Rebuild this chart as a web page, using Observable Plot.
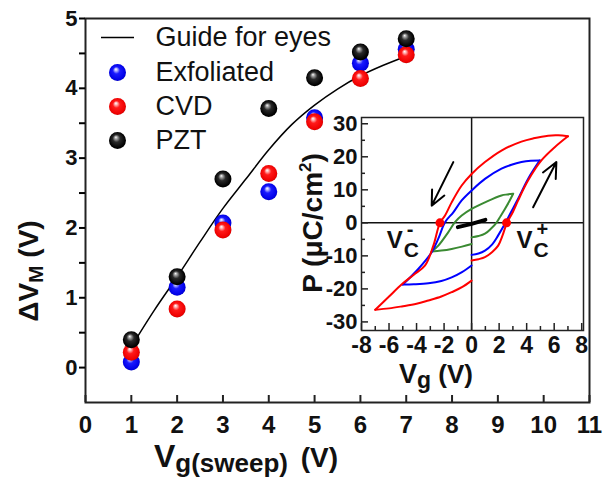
<!DOCTYPE html>
<html>
<head>
<meta charset="utf-8">
<script src="https://cdn.jsdelivr.net/npm/d3@7"></script>
<script src="https://cdn.jsdelivr.net/npm/@observablehq/plot@0.6"></script>
<style>
  body { margin: 0; background: #fff; }
  #chart { position: relative; width: 604px; height: 480px; }
  #inset { position: absolute; left: 301px; top: 113px; }
  #chart svg text { font-family: "Liberation Sans", Arial, sans-serif; }
</style>
</head>
<body>
<svg width="0" height="0" style="position:absolute">
  <defs>
    <radialGradient id="ball-blue" cx="0.5" cy="0.5" r="0.55" fx="0.4" fy="0.3">
      <stop offset="0" stop-color="#ffffff"/>
      <stop offset="0.14" stop-color="#b8b8ff"/>
      <stop offset="0.38" stop-color="#1a1aff"/>
      <stop offset="0.85" stop-color="#0000e6"/>
      <stop offset="1" stop-color="#00009a"/>
    </radialGradient>
    <radialGradient id="ball-red" cx="0.5" cy="0.5" r="0.55" fx="0.4" fy="0.3">
      <stop offset="0" stop-color="#ffffff"/>
      <stop offset="0.14" stop-color="#ffb8b8"/>
      <stop offset="0.38" stop-color="#ff1a1a"/>
      <stop offset="0.85" stop-color="#ee0000"/>
      <stop offset="1" stop-color="#a00000"/>
    </radialGradient>
    <radialGradient id="ball-black" cx="0.5" cy="0.5" r="0.55" fx="0.4" fy="0.3">
      <stop offset="0" stop-color="#ffffff"/>
      <stop offset="0.14" stop-color="#aaaaaa"/>
      <stop offset="0.4" stop-color="#2a2a2a"/>
      <stop offset="0.85" stop-color="#000000"/>
      <stop offset="1" stop-color="#000000"/>
    </radialGradient>
  </defs>
</svg>
<div id="chart"><div id="inset"></div></div>
<script>
const FONT = '"Liberation Sans", Arial, sans-serif';

// ΔV_M versus sweep gate voltage
const sweepV     = [1, 2, 3, 4, 5, 6, 7];
const exfoliated = [0.08, 1.15, 2.07, 2.52, 3.58, 4.36, 4.56];
const cvd        = [0.22, 0.84, 1.97, 2.78, 3.52, 4.14, 4.48];
const pzt        = [0.40, 1.30, 2.70, 3.71, 4.15, 4.52, 4.71];

// hand-drawn guide curve
const guideV  = [1, 1.5, 2, 2.5, 3, 3.5, 4, 4.5, 5, 5.5, 6, 6.5, 7];
const guideDV = [0.30, 0.82, 1.30, 1.80, 2.28, 2.70, 3.12, 3.48, 3.76, 3.99, 4.18, 4.33, 4.46];

const xTicks  = [0, 1, 2, 3, 4, 5, 6, 7, 8, 9, 10, 11];
const yTicks  = [0, 1, 2, 3, 4, 5];
const yMinor  = [0.5, 1.5, 2.5, 3.5, 4.5];

const seriesNames = ["Exfoliated", "CVD", "PZT"];
const seriesBalls = ["url(#ball-blue)", "url(#ball-red)", "url(#ball-black)"];
const seriesValues = [exfoliated, cvd, pzt];

// P–V hysteresis loops (V in volts, P in µC/cm²), each split in sweep branches
const redDown  = [[7.0,26.2],[6.3,26.5],[5.56,26.4],[4.5,25.6],[3.62,24.6],[2.17,21.9],[0.97,18.4],[0,14.8],[-0.72,11.3],[-1.45,6.2],[-1.93,2.2],[-2.3,0],[-2.78,-6.9],[-3.38,-12.9],[-4.2,-15.7],[-5.07,-18.6],[-6.0,-22.3],[-7.0,-26.3]];
const redUpNeg = [[-7.0,-26.3],[-6.0,-25.9],[-5.07,-25.3],[-4.0,-24.5],[-3.14,-23.5],[-2.2,-22.3],[-1.45,-21.0],[-0.7,-19.5],[0,-17.5]];
const redUpPos = [[0,-11.4],[0.5,-11.0],[0.97,-10.4],[1.5,-8.8],[1.93,-6.9],[2.25,-3.8],[2.54,-0.3],[3.0,3.3],[3.38,6.8],[4.1,12.8],[5.07,18.9],[6.04,22.9],[7.0,26.2]];

const blueDown  = [[4.95,18.9],[4.3,18.8],[3.62,18.4],[2.9,17.6],[2.17,16.4],[0.97,13.3],[0,9.8],[-0.72,6.8],[-1.33,3.2],[-1.93,0.2],[-2.42,-4.8],[-2.9,-8.9],[-3.86,-13.9],[-5.0,-18.7]];
const blueUpNeg = [[-5.0,-18.7],[-4.2,-18.6],[-3.14,-18.3],[-2.2,-17.6],[-1.45,-16.5],[-0.7,-14.9],[0,-12.9]];
const blueUpPos = [[0,-9.7],[0.5,-9.3],[0.97,-8.4],[1.5,-6.5],[1.93,-3.8],[2.42,-0.3],[2.9,3.5],[3.38,7.3],[4.1,13.3],[4.95,18.9]];

const greenDown  = [[3.02,8.8],[2.6,8.6],[2.17,8.3],[0.97,6.2],[0,4.2],[-0.72,2.2],[-1.21,0.2],[-1.69,-2.8],[-2.42,-6.9],[-2.9,-8.7]];
const greenUpNeg = [[-2.9,-8.7],[-2.2,-8.4],[-1.45,-7.9],[-0.7,-7.2],[0,-6.4]];
const greenUpPos = [[0,-4.4],[0.5,-4.0],[0.97,-3.3],[1.4,-1.8],[1.8,0],[2.1,2.0],[2.42,4.2],[2.75,6.6],[3.02,8.8]];

const smallLoop = [[-1.0,-1.3],[0,-0.3],[1.0,0.9]];

// coercive voltages V_C- and V_C+
const coerciveV = [-2.3, 2.54];

// sweep direction arrows [V1, P1, V2, P2]
const sweepArrows = [[-1.33, 18.4, -2.9, 5.2], [4.47, 4.7, 6.16, 18.4]];

// V_C labels
const vcLabelV    = [-6.16, 3.26];
const vcLabelP    = [-5.4, -5.4];
const vcLabelSign = ["-", "+"];

const vgMajor = [-8, -6, -4, -2, 0, 2, 4, 6, 8];
const vgMinor = [-7, -5, -3, -1, 1, 3, 5, 7];
const pMajor  = [-30, -20, -10, 0, 10, 20, 30];
const pMinor  = [-25, -15, -5, 5, 15, 25];

// ---------- main chart ----------
const W = 604, H = 480, mL = 85, mR = 15, mT = 18, mB = 78;
const innerH = H - mT - mB;

const lineSymbol = {
  draw(context) { context.moveTo(-16.5, 0); context.lineTo(16.5, 0); }
};

const legendRows = [37, 72, 106, 140];

const legendMarks = [
  Plot.dot([0], {frameAnchor: "top-left", dx: 117 - mL, dy: legendRows[0] - mT, symbol: lineSymbol, fill: "none", stroke: "black", strokeWidth: 1.5}),
  Plot.text(["Guide for eyes"], {frameAnchor: "top-left", dx: 155 - mL, dy: legendRows[0] - mT, text: d => d, textAnchor: "start", lineAnchor: "middle", fontSize: 27, fill: "#111"})
];
seriesNames.forEach((name, i) => {
  legendMarks.push(
    Plot.dot([0], {frameAnchor: "top-left", dx: 117 - mL, dy: legendRows[i + 1] - mT, r: 8.5, fill: seriesBalls[i]}),
    Plot.text([name], {frameAnchor: "top-left", dx: 155 - mL, dy: legendRows[i + 1] - mT, text: d => d, textAnchor: "start", lineAnchor: "middle", fontSize: 27, fill: "#111"})
  );
});

const guide = guideV.map((v, i) => ({v, dv: guideDV[i]}));

const main = Plot.plot({
  width: W, height: H,
  marginLeft: mL, marginRight: mR, marginTop: mT, marginBottom: mB,
  style: {fontFamily: FONT, background: "transparent", overflow: "visible"},
  x: {domain: [0, 11]},
  y: {domain: [-0.5, 5]},
  marks: [
    Plot.frame({stroke: "#222", strokeWidth: 2}),
    Plot.axisY(yTicks, {tickSize: 6, tickPadding: 2, fontSize: 22, fontWeight: "bold", strokeWidth: 2, label: null, tickFormat: d => String(d), fill: "#111"}),
    Plot.axisY(yMinor, {tickSize: 6, tickFormat: () => "", strokeWidth: 2, label: null}),
    Plot.axisX(xTicks, {tickSize: 0, tickPadding: 13, fontSize: 24, fontWeight: "bold", label: null, tickFormat: d => String(d), fill: "#111"}),
    Plot.tickX(xTicks, {x: d => d, insetTop: innerH - 7, stroke: "#222", strokeWidth: 2}),
    Plot.line(guide, {x: "v", y: "dv", curve: "catmull-rom", stroke: "black", strokeWidth: 1.5}),
    ...seriesValues.map((vals, i) =>
      Plot.dot(sweepV.map((v, j) => ({v, dv: vals[j]})), {x: "v", y: "dv", r: 8.5, fill: seriesBalls[i]})
    ),
    ...legendMarks
  ]
});
document.getElementById("chart").prepend(main);

// axis titles with sub/superscripts
const svgMain = d3.select(main);
const xt = svgMain.append("text").attr("x", 246).attr("y", 467).attr("font-weight", "bold").attr("fill", "#111");
xt.append("tspan").attr("font-size", 32).text("V");
xt.append("tspan").attr("font-size", 26).attr("dy", 5).text("g(sweep)");
xt.append("tspan").attr("font-size", 28).attr("dy", -5).attr("dx", 5).text(" (V)");

const yt = svgMain.append("text").attr("transform", "translate(38,271) rotate(-90)").attr("font-weight", "bold").attr("fill", "#111");
yt.append("tspan").attr("font-size", 28).text("ΔV");
yt.append("tspan").attr("font-size", 21).attr("dy", 5).text("M");
yt.append("tspan").attr("font-size", 28).attr("dy", -5).text(" (V)");

// ---------- inset: P–V hysteresis ----------
const iL = 60, iR = 4, iT = 4, iB = 56, iW = 286, iH = 273;
const iInnerW = iW - iL - iR, iInnerH = iH - iT - iB;

const toRows = (pts, loop, part) => pts.map(([v, p]) => ({v, p, key: loop + "-" + part}));
const loopStyle = [
  {color: "#ff0000", parts: [redDown, redUpNeg, redUpPos]},
  {color: "#0000ff", parts: [blueDown, blueUpNeg, blueUpPos]},
  {color: "#3a8a32", parts: [greenDown, greenUpNeg, greenUpPos]}
];

const loopMarks = [];
loopStyle.slice().reverse().forEach((loop, li) => {
  loop.parts.forEach((pts, pi) => {
    loopMarks.push(Plot.line(toRows(pts, li, pi), {x: "v", y: "p", stroke: loop.color, strokeWidth: 2, curve: "catmull-rom"}));
  });
});

const vcLabels = vcLabelV.map((v, i) => ({v, p: vcLabelP[i], sign: vcLabelSign[i]}));

const inset = Plot.plot({
  width: iW, height: iH,
  marginLeft: iL, marginRight: iR, marginTop: iT, marginBottom: iB,
  style: {fontFamily: FONT, background: "transparent", overflow: "visible"},
  x: {domain: [-8, 8.13]},
  y: {domain: [-32.6, 31.9]},
  marks: [
    Plot.ruleX([0], {stroke: "#111", strokeWidth: 1.5}),
    Plot.ruleY([0], {stroke: "#111", strokeWidth: 1.5}),
    ...loopMarks,
    Plot.line(smallLoop.map(([v, p]) => ({v, p})), {x: "v", y: "p", stroke: "#000", strokeWidth: 4, strokeLinecap: "round"}),
    Plot.dot(coerciveV.map(v => ({v, p: 0})), {x: "v", y: "p", r: 4.5, fill: "#ff0000"}),
    Plot.arrow(sweepArrows, {x1: d => d[0], y1: d => d[1], x2: d => d[2], y2: d => d[3], stroke: "#000", strokeWidth: 2, headLength: 14, headAngle: 50}),
    Plot.text(vcLabels, {x: "v", y: "p", text: () => "V", textAnchor: "start", lineAnchor: "middle", fontSize: 24, fontWeight: "bold", fill: "#111"}),
    Plot.text(vcLabels, {x: "v", y: "p", text: () => "C", textAnchor: "start", lineAnchor: "middle", dx: 17, dy: 10, fontSize: 21, fontWeight: "bold", fill: "#111"}),
    Plot.text(vcLabels, {x: "v", y: "p", text: "sign", textAnchor: "start", lineAnchor: "middle", dx: 20, dy: -11, fontSize: 20, fontWeight: "bold", fill: "#111"}),
    Plot.frame({stroke: "#222", strokeWidth: 1.5}),
    Plot.axisX(vgMajor, {tickSize: 0, tickPadding: 6, fontSize: 23, fontWeight: "bold", label: null, tickFormat: d => String(d), fill: "#111"}),
    Plot.tickX(vgMajor, {x: d => d, insetTop: iInnerH - 7, stroke: "#222", strokeWidth: 1.5}),
    Plot.tickX(vgMinor, {x: d => d, insetTop: iInnerH - 4, stroke: "#222", strokeWidth: 1.5}),
    Plot.axisY(pMajor, {tickSize: 0, tickPadding: 4, fontSize: 22, fontWeight: "bold", label: null, tickFormat: d => String(d), fill: "#111"}),
    Plot.tickY(pMajor, {y: d => d, insetRight: iInnerW - 7, stroke: "#222", strokeWidth: 1.5}),
    Plot.tickY(pMinor, {y: d => d, insetRight: iInnerW - 4, stroke: "#222", strokeWidth: 1.5})
  ]
});
document.getElementById("inset").append(inset);

// inset axis titles
const pt = svgMain.append("text").attr("transform", "translate(322,223) rotate(-90)").attr("text-anchor", "middle").attr("font-weight", "bold").attr("font-size", 28).attr("fill", "#111");
pt.append("tspan").text("P (μC/cm");
pt.append("tspan").attr("font-size", 17).attr("dy", -11).text("2");
pt.append("tspan").attr("dy", 11).text(")");

const vt = svgMain.append("text").attr("x", 436).attr("y", 383).attr("font-weight", "bold").attr("fill", "#111");
vt.append("tspan").attr("font-size", 27).text("V");
vt.append("tspan").attr("font-size", 23).attr("dy", 5).text("g");
vt.append("tspan").attr("font-size", 26).attr("dy", -5).text(" (V)");
</script>
</body>
</html>
